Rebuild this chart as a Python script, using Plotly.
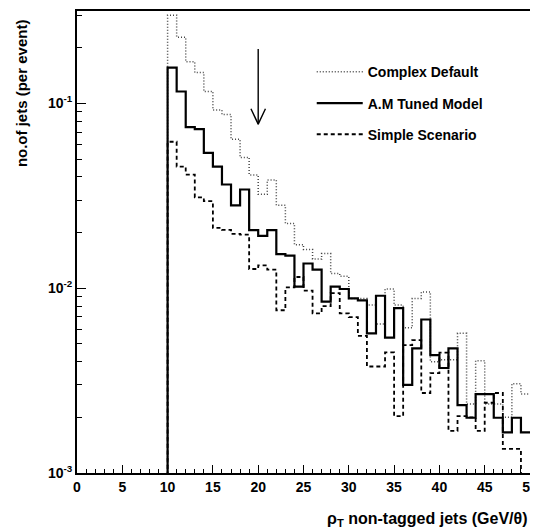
import plotly.graph_objects as go

# ---------------- data ----------------
bin_edges = list(range(10, 51))  # 40 bins of width 1 GeV, 10..50

complex_default = [0.30, 0.228, 0.168, 0.147, 0.116, 0.092, 0.087, 0.064, 0.051, 0.041,
                   0.0322, 0.0385, 0.0281, 0.0224, 0.0172, 0.0162, 0.0144, 0.0154, 0.0120, 0.0116,
                   0.0088, 0.0088, 0.0081, 0.0064, 0.0099, 0.0081, 0.0061, 0.0088, 0.00955, 0.0040,
                   0.0041, 0.0041, 0.0057, 0.00236, 0.00405, 0.00236, 0.00236, 0.0020, 0.00304, 0.00268]

am_tuned = [0.156, 0.116, 0.0744, 0.0726, 0.054, 0.0455, 0.0364, 0.0281, 0.0342, 0.0206,
            0.0192, 0.0206, 0.0153, 0.0150, 0.0102, 0.0136, 0.0126, 0.00845, 0.0102, 0.0099,
            0.0088, 0.0086, 0.0057, 0.0091, 0.0054, 0.0078, 0.0030, 0.00472, 0.00677, 0.00434,
            0.0037, 0.00472, 0.00233, 0.00199, 0.00267, 0.00267, 0.00199, 0.00166, 0.00199, 0.00166]

simple_scenario = [0.062, 0.0455, 0.0412, 0.0310, 0.0296, 0.0212, 0.0207, 0.0197, 0.0195, 0.0127,
                   0.0133, 0.0126, 0.0076, 0.0101, 0.0115, 0.0097, 0.0073, 0.0080, 0.0094, 0.0073,
                   0.00697, 0.00552, 0.00377, 0.00377, 0.00449, 0.00203, 0.00492, 0.00523, 0.00271, 0.00347,
                   0.00448, 0.00169, 0.00203, 0.0020, 0.00169, 0.0024, 0.00271, 0.00135, 0.00135, 0.0008]

series_names = ["Complex Default", "A.M Tuned Model", "Simple Scenario"]
x_ticks = [0, 5, 10, 15, 20, 25, 30, 35, 40, 45, 50]
y_ticks = [0.001, 0.01, 0.1]
y_ticktext = ["10<sup>-3</sup>", "10<sup>-2</sup>", "10<sup>-1</sup>"]

arrow_x = 20
arrow_top = 0.197
arrow_tip = 0.0772

# ---------------- styles ----------------
FONT = "Liberation Sans"
FLOOR = 1e-4  # histogram outline starts from below the visible range

# The page body keeps its default 8px margin: the figure's top-left corner sits
# at page pixel (8, 8); the figure reaches the window's right and bottom edges.
W, H = 530, 524
L, R, T, B = 69, 7.5, 0.5, 59
PW, PH = W - L - R, H - T - B

styles = [
    dict(color="#444444", width=1.5, dash="1px,2px"),
    dict(color="black", width=2.2, dash="solid"),
    dict(color="black", width=1.8, dash="4px,3px"),
]


def step_xy(values):
    xs = [bin_edges[0]] + list(bin_edges)
    ys = [FLOOR] + list(values) + [values[-1]]
    return xs, ys


fig = go.Figure()
for i, (name, vals) in enumerate(zip(series_names, [complex_default, am_tuned, simple_scenario])):
    xs, ys = step_xy(vals)
    fig.add_trace(go.Scatter(
        x=xs, y=ys, mode="lines", line=dict(shape="hv", **styles[i]),
        name=name, legendgroup=f"g{i}", showlegend=True,
    ))

# arrow at x = 20 (open V head)
fig.add_trace(go.Scatter(x=[arrow_x, arrow_x], y=[arrow_top, arrow_tip], mode="lines",
                         line=dict(color="black", width=1.4), showlegend=False, hoverinfo="skip"))
fig.add_trace(go.Scatter(x=[arrow_x - 0.8, arrow_x, arrow_x + 0.8], y=[0.0935, arrow_tip, 0.0935],
                         mode="lines", line=dict(color="black", width=1.4),
                         showlegend=False, hoverinfo="skip"))

minor_x = [v for v in range(0, 51) if v % 5 != 0]
minor_y = [m * 10 ** e for e in (-3, -2, -1) for m in range(2, 10) if m * 10 ** e < 0.32]


def px_x(p):  # page pixel -> paper x
    return (p - 8 - L) / PW


def px_y(p):  # page pixel -> paper y
    return (H - B - (p - 8)) / PH


fig.update_layout(
    width=W, height=H,
    margin=dict(l=L, r=R, t=T, b=B, pad=0),
    paper_bgcolor="white", plot_bgcolor="white",
    font=dict(family=FONT, color="black"),
    showlegend=True,
    legend=dict(
        x=px_x(312), y=px_y(54), xanchor="left", yanchor="top",
        bgcolor="rgba(0,0,0,0)", borderwidth=0,
        font=dict(family=FONT, size=14, color="black", weight="bold"),
        itemwidth=46, tracegroupgap=10,
    ),
    xaxis=dict(
        range=[0, 50], showgrid=False, zeroline=False,
        showline=True, linecolor="black", linewidth=2, mirror=True,
        ticks="inside", ticklen=8, tickwidth=1.2, tickcolor="black",
        tickvals=x_ticks, ticktext=[str(v) for v in x_ticks],
        tickfont=dict(family=FONT, size=14, color="black", weight="bold"),
        ticklabeloverflow="allow",
        minor=dict(tickvals=minor_x, ticks="inside", ticklen=4, tickwidth=1, tickcolor="black"),
    ),
    yaxis=dict(
        type="log", range=[-3, -0.5], showgrid=False, zeroline=False,
        showline=True, linecolor="black", linewidth=2, mirror=True,
        ticks="inside", ticklen=9, tickwidth=1.2, tickcolor="black",
        tickvals=y_ticks, ticktext=y_ticktext,
        tickfont=dict(family=FONT, size=14, color="black", weight="bold"),
        ticklabeloverflow="allow",
        minor=dict(tickvals=minor_y, ticks="inside", ticklen=4.5, tickwidth=1, tickcolor="black"),
    ),
    annotations=[
        dict(text="no.of jets (per event)", textangle=-90, xref="paper", yref="paper",
             x=px_x(21), y=px_y(91), xanchor="center", yanchor="middle",
             showarrow=False, font=dict(family=FONT, size=15, color="black", weight="bold")),
        dict(text="ρ<sub>T</sub> non-tagged jets (GeV/θ)", xref="paper", yref="paper",
             x=1.0, y=px_y(520), xanchor="right", yanchor="middle",
             showarrow=False, font=dict(family=FONT, size=16, color="black", weight="bold")),
    ],
)

fig.write_html("out.html", config={"displayModeBar": False})
